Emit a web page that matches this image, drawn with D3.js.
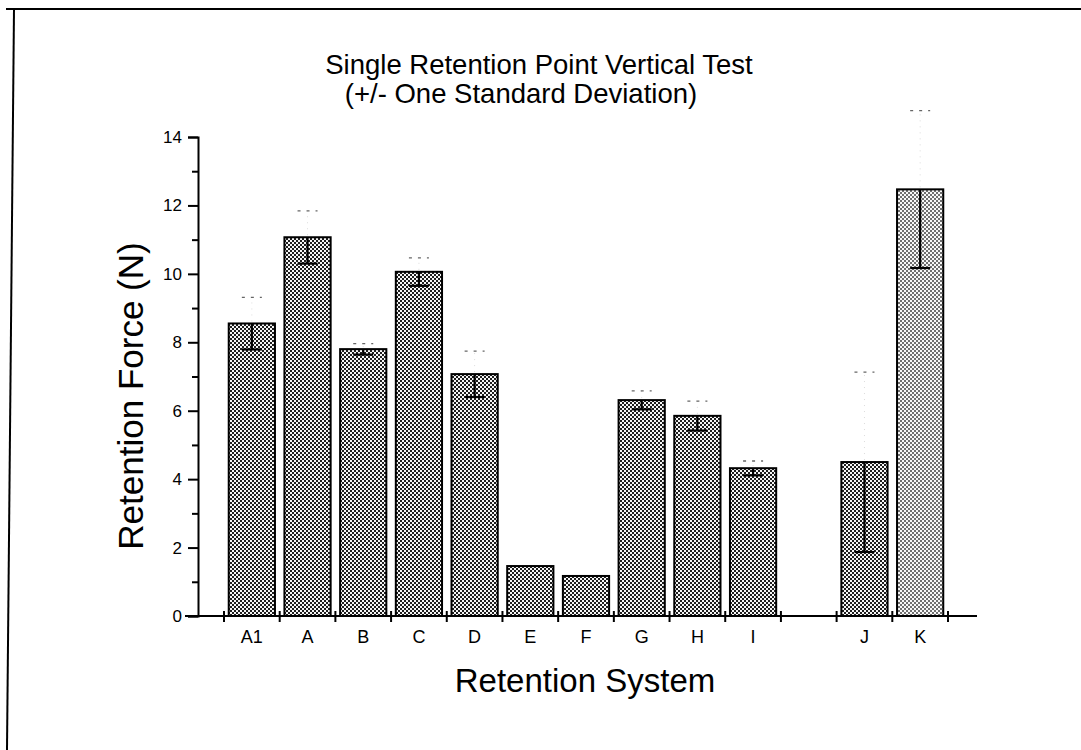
<!DOCTYPE html>
<html>
<head>
<meta charset="utf-8">
<script src="https://cdn.jsdelivr.net/npm/d3@7/dist/d3.min.js"></script>
<style>
  html, body { margin: 0; padding: 0; background: #fff; }
  svg { display: block; }
  text { font-family: "Liberation Sans", Arial, sans-serif; fill: #000; }
</style>
</head>
<body>
<svg id="chart" width="1081" height="750"></svg>
<script>
// ---- data ----
const categories = ["A1", "A", "B", "C", "D", "E", "F", "G", "H", "I", "", "J", "K"];
const means      = [8.55, 11.07, 7.80, 10.06, 7.07, 1.46, 1.17, 6.31, 5.85, 4.32, null, 4.50, 12.47];
const sds        = [0.76, 0.77, 0.16, 0.41, 0.67, 0, 0, 0.27, 0.43, 0.21, null, 2.63, 2.30];
const yMajorTicks = [0, 2, 4, 6, 8, 10, 12, 14];
const yMinorTicks = [1, 3, 5, 7, 9, 11, 13];
const titleLine1 = "Single Retention Point Vertical Test";
const titleLine2 = "(+/- One Standard Deviation)";
const xTitle = "Retention System";
const yTitle = "Retention Force (N)";

// ---- layout ----
const svg = d3.select("#chart");
const plot = { left: 198, top: 137, bottom: 616, slotLeft: 224, slotRight: 948, axisLeft: 185, axisRight: 977 };

const y = d3.scaleLinear().domain([0, 14]).range([plot.bottom, plot.top]);
const xSlot = d3.scaleBand().domain(categories.map((c, i) => i)).range([plot.slotLeft, plot.slotRight]).padding(0);
const xBar = d3.scaleBand().domain(categories.map((c, i) => i)).range([plot.slotLeft, plot.slotRight])
  .paddingInner(0.17).paddingOuter(0.085);

// patterns
const defs = svg.append("defs");
function checker(id, dark, light) {
  const p = defs.append("pattern").attr("id", id).attr("patternUnits", "userSpaceOnUse")
    .attr("width", 4).attr("height", 4);
  p.append("rect").attr("width", 4).attr("height", 4).attr("fill", light);
  p.append("rect").attr("x", 0).attr("y", 0).attr("width", 2).attr("height", 2).attr("fill", dark);
  p.append("rect").attr("x", 2).attr("y", 2).attr("width", 2).attr("height", 2).attr("fill", dark);
}
checker("dither", "#1e1e1e", "#f6f6f6");
checker("ditherLight", "#707070", "#f8f8f8");

// frame (scan border)
svg.append("line").attr("x1", 6).attr("y1", 9).attr("x2", 1081).attr("y2", 9)
  .attr("stroke", "#000").attr("stroke-width", 2.2);
svg.append("line").attr("x1", 14).attr("y1", 9).attr("x2", 7).attr("y2", 750)
  .attr("stroke", "#000").attr("stroke-width", 2);

// titles
svg.append("text").attr("x", 539).attr("y", 74).attr("text-anchor", "middle")
  .attr("font-size", 27.5).text(titleLine1);
svg.append("text").attr("x", 521).attr("y", 103).attr("text-anchor", "middle")
  .attr("font-size", 27.5).text(titleLine2);

// bars
const data = categories.map((c, i) => ({ c, i, m: means[i], s: sds[i] })).filter(d => d.m !== null);
svg.append("g").selectAll("rect").data(data).join("rect")
  .attr("x", d => xBar(d.i))
  .attr("y", d => y(d.m))
  .attr("width", xBar.bandwidth())
  .attr("height", d => y(0) - y(d.m))
  .attr("fill", d => d.c === "K" ? "url(#ditherLight)" : "url(#dither)")
  .attr("stroke", "#000").attr("stroke-width", 2);

// error bars
const eb = svg.append("g");
const cx = d => xBar(d.i) + xBar.bandwidth() / 2;
const capW = 10;
const withErr = data.filter(d => d.s > 0);
// lower (solid, inside bar)
eb.selectAll(".lo").data(withErr).join("line").attr("class", "lo")
  .attr("x1", cx).attr("x2", cx)
  .attr("y1", d => y(d.m)).attr("y2", d => y(d.m - d.s))
  .attr("stroke", "#000").attr("stroke-width", 2.2);
eb.selectAll(".locap").data(withErr).join("line").attr("class", "locap")
  .attr("x1", d => cx(d) - capW).attr("x2", d => cx(d) + capW)
  .attr("y1", d => y(d.m - d.s)).attr("y2", d => y(d.m - d.s))
  .attr("stroke", "#000").attr("stroke-width", 2.2);
// upper (faint, above bar)
eb.selectAll(".hi").data(withErr).join("line").attr("class", "hi")
  .attr("x1", cx).attr("x2", cx)
  .attr("y1", d => y(d.m) - 2).attr("y2", d => y(d.m + d.s))
  .attr("stroke", "#dcdcdc").attr("stroke-width", 1).attr("stroke-dasharray", "1,5");
eb.selectAll(".hicap").data(withErr).join("line").attr("class", "hicap")
  .attr("x1", d => cx(d) - capW).attr("x2", d => cx(d) + capW)
  .attr("y1", d => y(d.m + d.s)).attr("y2", d => y(d.m + d.s))
  .attr("stroke", "#666").attr("stroke-width", 1.3).attr("stroke-dasharray", "3,6");

// y axis
const yAxis = svg.append("g").attr("transform", `translate(${plot.left},0)`)
  .call(d3.axisLeft(y).tickValues(yMajorTicks).tickSize(10).tickPadding(6).tickFormat(d3.format("d")));
yAxis.select(".domain").attr("stroke-width", 2);
yAxis.selectAll(".tick line").attr("stroke-width", 2);
yAxis.selectAll("text").attr("font-size", 17).attr("font-family", "'Liberation Sans Narrow','Liberation Sans',Arial,sans-serif");
const yMinor = svg.append("g").attr("transform", `translate(${plot.left},0)`)
  .call(d3.axisLeft(y).tickValues(yMinorTicks).tickSize(6).tickFormat(""));
yMinor.select(".domain").remove();
yMinor.selectAll(".tick line").attr("stroke-width", 2);

// x axis line
svg.append("line").attr("x1", plot.axisLeft).attr("x2", plot.axisRight)
  .attr("y1", y(0)).attr("y2", y(0)).attr("stroke", "#000").attr("stroke-width", 2.2);

// x ticks at slot boundaries
const bounds = categories.map((c, i) => xSlot(i)).concat([xSlot(categories.length - 1) + xSlot.bandwidth()]);
svg.append("g").selectAll("line").data(bounds).join("line")
  .attr("x1", d => d).attr("x2", d => d)
  .attr("y1", y(0) - 5).attr("y2", y(0) + 6)
  .attr("stroke", "#000").attr("stroke-width", 2);

// x labels
const xAxis = svg.append("g").attr("transform", `translate(0,${y(0)})`)
  .call(d3.axisBottom(xSlot).tickSize(0).tickPadding(14).tickFormat(i => categories[i]));
xAxis.select(".domain").remove();
xAxis.selectAll("text").attr("font-size", 18).attr("font-family", "'Liberation Sans',Arial,sans-serif");

// axis titles
svg.append("text").attr("x", 585).attr("y", 692).attr("text-anchor", "middle")
  .attr("font-size", 33).text(xTitle);
svg.append("text").attr("transform", "translate(143,396) rotate(-90)").attr("text-anchor", "middle")
  .attr("font-size", 35).text(yTitle);
</script>
</body>
</html>
